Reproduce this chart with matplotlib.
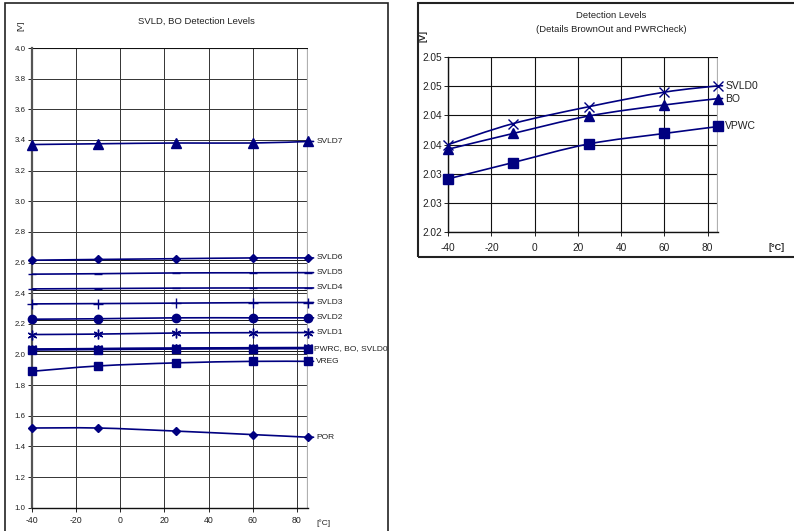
import matplotlib
matplotlib.use("Agg")
import matplotlib.pyplot as plt
import numpy as np
from matplotlib.patches import Rectangle, PathPatch
from matplotlib.path import Path
from matplotlib.ticker import MultipleLocator, FormatStrFormatter

plt.rcParams['font.family'] = ['Liberation Sans', 'DejaVu Sans']
plt.rcParams['axes.unicode_minus'] = False

navy = '#000080'

temps = [-40, -10, 25, 60, 85]

# left chart series
svld7 = [3.37, 3.375, 3.38, 3.38, 3.39]
svld6 = [2.615, 2.62, 2.625, 2.63, 2.63]
svld5 = [2.524, 2.527, 2.532, 2.533, 2.534]
svld4 = [2.428, 2.43, 2.433, 2.434, 2.434]
svld3 = [2.33, 2.332, 2.335, 2.338, 2.339]
svld2 = [2.23, 2.233, 2.239, 2.239, 2.239]
svld1 = [2.13, 2.133, 2.14, 2.142, 2.143]
vreg = [1.89, 1.925, 1.945, 1.955, 1.955]
por = [1.52, 1.52, 1.50, 1.477, 1.46]

# detail chart series (also drawn on the left chart)
svld0 = [2.035, 2.0386, 2.0415, 2.044, 2.0451]
bo = [2.0342, 2.0369, 2.0399, 2.0418, 2.0429]
vpwc = [2.0291, 2.0319, 2.0351, 2.0369, 2.0381]

right_yticks = [2.020, 2.025, 2.030, 2.035, 2.040, 2.045, 2.050]
right_ylabels = ['2.02', '2.03', '2.03', '2.04', '2.04', '2.05', '2.05']
xticks = [-40, -20, 0, 20, 40, 60, 80]

# stray gridlines from the overlaid source charts
extra_grid = [2.617, 2.422, 2.226, 2.022]


def smooth_line(ax, xs, ys, **kw):
    # excel-like smoothed line: catmull-rom segments as cubic beziers
    p = np.column_stack([xs, ys]).astype(float)
    n = len(p)
    verts = [p[0]]
    codes = [Path.MOVETO]
    for i in range(n - 1):
        p0 = p[i - 1] if i > 0 else p[i]
        p3 = p[i + 2] if i + 2 < n else p[i + 1]
        c1 = p[i] + (p[i + 1] - p0) / 6
        c2 = p[i + 1] - (p3 - p[i]) / 6
        verts += [c1, c2, p[i + 1]]
        codes += [Path.CURVE4] * 3
    ax.add_patch(PathPatch(Path(verts, codes), transform=ax.transData,
                           fill=False, clip_on=False, **kw))


fig = plt.figure(figsize=(7.94, 5.31), dpi=100)

# chart frames
fig.patches.append(Rectangle((0.0063, -0.05), 0.4824, 1.0444, transform=fig.transFigure,
                             fill=False, edgecolor='#222222', linewidth=1.2))
fig.patches.append(Rectangle((0.5264, 0.516), 0.48, 0.478, transform=fig.transFigure,
                             fill=False, edgecolor='#222222', linewidth=1.5))

# ---------------- left chart ----------------
ax = fig.add_axes([0.0403, 0.0439, 0.3476, 0.8657])
ax.set_xlim(-40, 85)
ax.set_ylim(1.0, 4.0)
ax.set_xticks(xticks)
ax.yaxis.set_major_locator(MultipleLocator(0.2))
ax.yaxis.set_major_formatter(FormatStrFormatter('%.1f'))
ax.grid(True, color='#333333', linewidth=0.7)
for g in extra_grid:
    ax.axhline(g, color='#111111', linewidth=0.7, zorder=1)
ax.axvline(85, color='#b0b0b0', linewidth=1.6)
for s in ['top', 'right']:
    ax.spines[s].set_visible(False)
ax.spines['left'].set_color('#555555')
ax.spines['left'].set_linewidth(1.6)
ax.spines['bottom'].set_color('#111111')
ax.spines['bottom'].set_linewidth(1.0)
ax.axhline(4.0, color='#111111', linewidth=0.8)
ax.tick_params(labelsize=5.7, colors='#222222', length=3, width=0.7, pad=1.5)
ax.tick_params(axis='x', labelsize=6.3, pad=3)

left_series = [
    (svld7, '^', 6.5, 'SVLD7'),
    (svld6, 'D', 4.5, 'SVLD6'),
    (svld5, '_', 6, 'SVLD5'),
    (svld4, '_', 6, 'SVLD4'),
    (svld3, '+', 7, 'SVLD3'),
    (svld2, 'o', 6, 'SVLD2'),
    (svld1, (6, 2, 0), 7, 'SVLD1'),
    (svld0, 'x', 6, None),
    (bo, '^', 6, None),
    (vpwc, 's', 6, 'PWRC, BO, SVLD0'),
    (vreg, 's', 6, 'VREG'),
    (por, 'D', 4.5, 'POR'),
]
for vals, mk, ms, name in left_series:
    smooth_line(ax, temps, vals, edgecolor=navy, linewidth=1.2, zorder=3)
    ax.plot(temps, vals, color=navy, linestyle='none', marker=mk, markersize=ms,
            markeredgewidth=1.0, clip_on=False, zorder=4)
    if name:
        off = 4 if name.startswith('PWRC') else 6
        ax.annotate(name, xy=(temps[-1], vals[-1]), xytext=(off, 0),
                    textcoords='offset points', va='center', ha='left',
                    fontsize=6, color='#222222', annotation_clip=False,
                    arrowprops=dict(arrowstyle='-', color=navy, lw=1.2,
                                    shrinkA=0, shrinkB=0))

fig.text(0.247, 0.960, 'SVLD, BO Detection Levels', ha='center', va='center',
         fontsize=6.8, color='#222222')
fig.text(0.026, 0.952, '[V]', rotation=90, ha='center', va='center',
         fontsize=6, color='#222222')
fig.text(0.398, 0.015, '[°C]', ha='left', va='center', fontsize=6, color='#222222')

# ---------------- right chart ----------------
ax2 = fig.add_axes([0.5646, 0.5636, 0.3401, 0.3285])
ax2.set_xlim(-40, 85)
ax2.set_ylim(2.020, 2.050)
ax2.set_xticks(xticks)
ax2.set_yticks(right_yticks)
ax2.set_yticklabels(right_ylabels)
ax2.grid(True, color='#111111', linewidth=0.8)
ax2.axvline(85, color='#b0b0b0', linewidth=1.6)
for s in ['top', 'right']:
    ax2.spines[s].set_visible(False)
for s in ['left', 'bottom']:
    ax2.spines[s].set_color('#111111')
    ax2.spines[s].set_linewidth(1.0)
ax2.axhline(2.050, color='#111111', linewidth=0.8)
ax2.tick_params(labelsize=7.3, colors='#222222', length=3, width=0.7, pad=1.5)
ax2.tick_params(axis='x', pad=5)

right_series = [
    (svld0, 'x', 6.5, 'SVLD0'),
    (bo, '^', 6.5, 'BO'),
    (vpwc, 's', 6.5, 'VPWC'),
]
for vals, mk, ms, name in right_series:
    smooth_line(ax2, temps, vals, edgecolor=navy, linewidth=1.2, zorder=3)
    ax2.plot(temps, vals, color=navy, linestyle='none', marker=mk, markersize=ms,
             markeredgewidth=1.0, clip_on=False, zorder=4)
    ax2.annotate(name, xy=(temps[-1], vals[-1]), xytext=(5, 0),
                 textcoords='offset points', va='center', ha='left',
                 fontsize=7.5, color='#222222', annotation_clip=False,
                 arrowprops=dict(arrowstyle='-', color=navy, lw=1.2,
                                 shrinkA=0, shrinkB=0))

fig.text(0.7695, 0.970, 'Detection Levels', ha='center', va='center',
         fontsize=6.8, color='#222222')
fig.text(0.7695, 0.944, '(Details BrownOut and PWRCheck)', ha='center', va='center',
         fontsize=6.8, color='#222222')
fig.text(0.533, 0.933, '[V]', rotation=90, ha='center', va='center',
         fontsize=6.5, fontweight='bold', color='#222222')
fig.text(0.968, 0.533, '[°C]', ha='left', va='center', fontsize=6.5,
         fontweight='bold', color='#222222')

fig.savefig('out.png', dpi=100)
